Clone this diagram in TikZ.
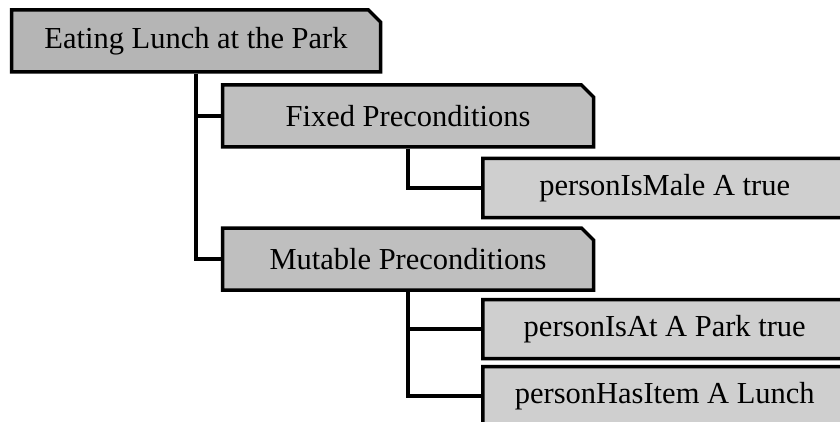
\documentclass[tikz,border=0pt]{standalone}
\usepackage{fontspec}
\setmainfont{Liberation Serif}
\usetikzlibrary{shapes.misc}

\begin{document}
\begin{tikzpicture}[x=1pt,y=-1pt]
  \tikzstyle{box}=[chamfered rectangle, chamfered rectangle corners=north east,
    chamfered rectangle xsep=6pt, chamfered rectangle ysep=6pt,
    draw, line width=3.5pt, inner sep=0pt, font=\fontsize{30.5}{34}\selectfont]
  \tikzstyle{top}=[box, fill=gray!58, minimum width=369pt, minimum height=62pt]
  \tikzstyle{group}=[box, fill=gray!50, minimum width=371pt, minimum height=62pt]
  \tikzstyle{leaf}=[box, fill=gray!38, minimum width=400pt, minimum height=59pt, anchor=west]
  \tikzstyle{link}=[line width=3.5pt]
  \useasboundingbox (0,0) rectangle (840,422);
  \clip (0,0) rectangle (840,422);
  \node[top] (lunch) at (196,41) {Eating Lunch at the Park};
  \node[group] (fixed) at (408,116) {Fixed Preconditions};
  \node[group] (mutable) at (408,259) {Mutable Preconditions};
  \node[leaf] (male) at (481,188) {\hspace*{-36pt}personIsMale A true};
  \node[leaf] (park) at (481,329) {\hspace*{-36pt}personIsAt A Park true};
  \node[leaf] (item) at (481,396) {\hspace*{-36pt}personHasItem A Lunch};
  % connectors
  \draw[link] (lunch.south) |- (fixed.west);
  \draw[link] (lunch.south) |- (mutable.west);
  \draw[link] (fixed.south) |- (male.west);
  \draw[link] (mutable.south) |- (park.west);
  \draw[link] (mutable.south) |- (item.west);
\end{tikzpicture}
\end{document}
